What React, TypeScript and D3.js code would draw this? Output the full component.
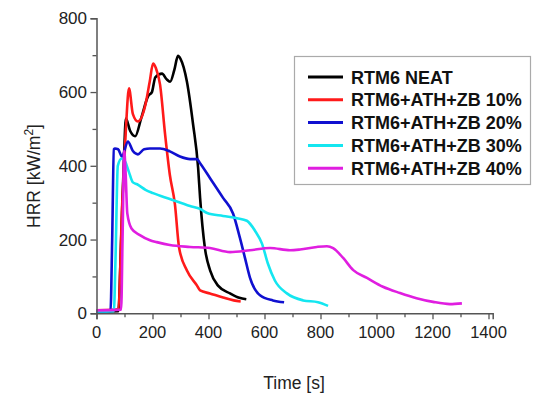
import { useEffect, useRef } from 'react';
import * as d3 from 'd3';

// [time s, HRR kW/m2]
const neat = [[0,5],[78,6],[88,200],[98,420],[105,528],[120,495],[138,480],[160,530],[185,590],[198,600],[210,640],[234,650],[250,635],[263,628],[278,660],[291,698],[300,690],[323,628],[345,512],[363,394],[370,313],[387,178],[406,116],[434,75],[477,54],[510,42],[535,38]];
const zb10 = [[0,8],[70,10],[78,12],[92,300],[105,500],[116,610],[130,540],[148,520],[173,560],[190,628],[202,677],[212,665],[227,620],[245,485],[262,375],[280,296],[295,178],[323,116],[359,75],[370,62],[405,54],[452,43],[490,35],[515,32]];
const zb20 = [[0,5],[50,6],[56,200],[62,445],[66,447],[77,445],[91,425],[112,466],[130,440],[148,431],[170,445],[191,447],[227,447],[262,439],[298,425],[334,418],[359,418],[370,407],[405,367],[452,313],[488,270],[512,205],[530,151],[548,97],[584,49],[630,35],[670,30]];
const zb30 = [[0,5],[62,6],[68,150],[76,400],[90,420],[102,412],[115,385],[130,355],[145,350],[175,335],[202,326],[262,310],[334,291],[370,283],[395,272],[452,264],[502,258],[537,251],[566,224],[591,189],[612,135],[637,89],[680,54],[738,35],[791,30],[827,20]];
const zb40 = [[0,8],[88,10],[93,200],[99,440],[104,380],[110,271],[125,230],[155,212],[191,198],[215,193],[262,185],[334,180],[405,177],[477,166],[548,171],[620,177],[691,171],[727,173],[787,180],[823,182],[845,177],[881,150],[917,117],[966,96],[1023,72],[1084,55],[1143,41],[1202,31],[1262,25],[1305,27]];

const seriesNames = ['RTM6 NEAT', 'RTM6+ATH+ZB 10%', 'RTM6+ATH+ZB 20%', 'RTM6+ATH+ZB 30%', 'RTM6+ATH+ZB 40%'];
const seriesColors = ['#000000', '#ff1a1a', '#1010d0', '#14e6f0', '#e01ee0'];
const xTicks = [0, 200, 400, 600, 800, 1000, 1200, 1400];
const yTicks = [0, 200, 400, 600, 800];

const App = () => {
    const svgRef = useRef(null);

    useEffect(() => {
        const width = 533;
        const height = 396;
        const svg = d3.select(svgRef.current)
            .attr('width', width)
            .attr('height', height);
        svg.selectAll('*').remove();

        const x = d3.scaleLinear().domain([0, 1415]).range([96.5, 492.7]);
        const y = d3.scaleLinear().domain([0, 800]).range([313.3, 18.3]);

        const axisColor = '#555';
        const font = 'Liberation Sans, Arial, sans-serif';

        // curves
        const line = d3.line().x(d => x(d[0])).y(d => y(d[1])).curve(d3.curveMonotoneX);
        const all = [neat, zb10, zb20, zb30, zb40];
        all.forEach((s, i) => {
            svg.append('path')
                .attr('d', line(s))
                .attr('fill', 'none')
                .attr('stroke', seriesColors[i])
                .attr('stroke-width', 2.6)
                .attr('stroke-linejoin', 'round');
        });

        // x axis
        const xAxis = svg.append('g')
            .attr('transform', `translate(0,${y(0)})`)
            .call(d3.axisBottom(x).tickValues(d3.range(0, 1401, 100)).tickSize(6).tickFormat(() => ''));
        xAxis.select('.domain').attr('stroke', axisColor).attr('stroke-width', 1.5);
        xAxis.selectAll('.tick line')
            .attr('stroke', axisColor)
            .attr('stroke-width', 1.3)
            .attr('y2', d => (d % 200 === 0 ? 6 : 4));
        svg.selectAll('.xlab')
            .data(xTicks)
            .enter().append('text')
            .attr('x', d => x(d))
            .attr('y', 338)
            .attr('text-anchor', 'middle')
            .style('font-family', font)
            .style('font-size', '16.5px')
            .style('fill', '#222')
            .text(d => d);

        // y axis
        const yAxis = svg.append('g')
            .attr('transform', `translate(${x(0)},0)`)
            .call(d3.axisLeft(y).tickValues(d3.range(0, 801, 100)).tickSize(6).tickFormat(() => ''));
        yAxis.select('.domain').attr('stroke', axisColor).attr('stroke-width', 1.5);
        yAxis.selectAll('.tick line')
            .attr('stroke', axisColor)
            .attr('stroke-width', 1.3)
            .attr('x2', d => (d % 200 === 0 ? -6 : -4));
        svg.selectAll('.ylab')
            .data(yTicks)
            .enter().append('text')
            .attr('x', 87)
            .attr('y', d => y(d) + 6)
            .attr('text-anchor', 'end')
            .style('font-family', font)
            .style('font-size', '17px')
            .style('fill', '#222')
            .text(d => d);

        // axis titles
        svg.append('text')
            .attr('x', 294)
            .attr('y', 389)
            .attr('text-anchor', 'middle')
            .style('font-family', font)
            .style('font-size', '17.5px')
            .style('fill', '#222')
            .text('Time [s]');
        const yt = svg.append('text')
            .attr('transform', 'translate(40,176) rotate(-90)')
            .attr('text-anchor', 'middle')
            .style('font-family', font)
            .style('font-size', '17.5px')
            .style('fill', '#222');
        yt.append('tspan').text('HRR [kW/m');
        yt.append('tspan').attr('dy', -7).style('font-size', '12px').text('2');
        yt.append('tspan').attr('dy', 7).text(']');

        // legend
        svg.append('rect')
            .attr('x', 294.5)
            .attr('y', 56.5)
            .attr('width', 236)
            .attr('height', 128)
            .attr('fill', 'white')
            .attr('stroke', '#aaa')
            .attr('stroke-width', 1.2);
        seriesNames.forEach((name, i) => {
            const ly = 77 + i * 22.8;
            svg.append('line')
                .attr('x1', 308).attr('x2', 343)
                .attr('y1', ly).attr('y2', ly)
                .attr('stroke', seriesColors[i])
                .attr('stroke-width', 3);
            svg.append('text')
                .attr('x', 351)
                .attr('y', ly + 6.5)
                .style('font-family', font)
                .style('font-size', '18px')
                .style('font-weight', 'bold')
                .style('fill', '#111')
                .text(name);
        });
    }, []);

    return (
        <div style={{ position: 'absolute', left: 0, top: 0, background: 'white' }}>
            <svg ref={svgRef} style={{ display: 'block' }}></svg>
        </div>
    );
};

export default App;
